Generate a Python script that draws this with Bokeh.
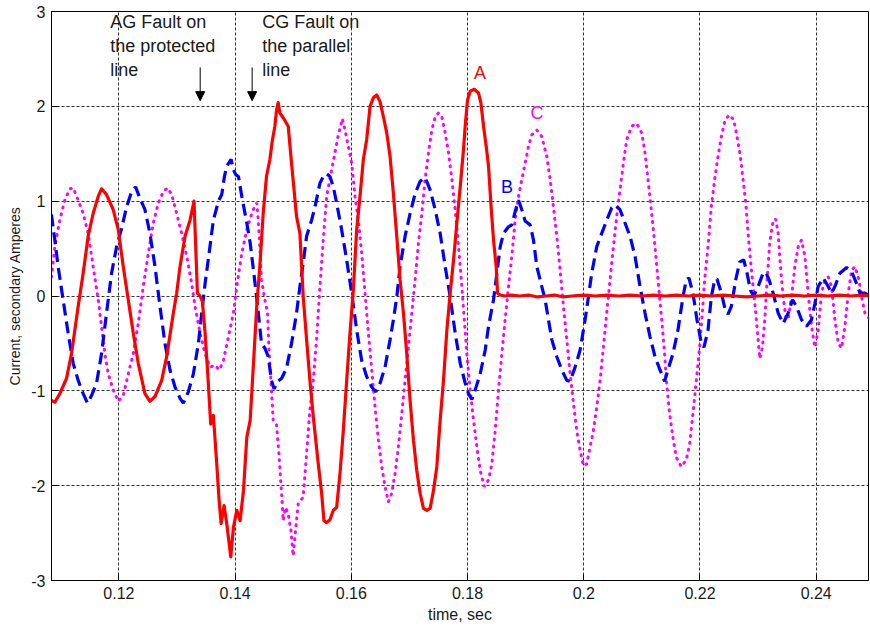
import math
from bokeh.plotting import figure
from bokeh.models import Range1d, FixedTicker, PrintfTickFormatter, Label, Arrow, NormalHead
from bokeh.embed import file_html
from bokeh.resources import INLINE

# ---- data (time in seconds, current in secondary amperes) ----
t_a = [0.10839, 0.10897, 0.10983, 0.11098, 0.11184, 0.11299, 0.11385, 0.11471, 0.11557, 0.11644,
       0.11701, 0.11787, 0.11902, 0.11989, 0.12075, 0.12161, 0.12247, 0.12333, 0.12448, 0.12534,
       0.12621, 0.12736, 0.12822, 0.12937, 0.12994, 0.13052, 0.13138, 0.13224, 0.13293, 0.13322,
       0.13351, 0.13397, 0.13437, 0.13483, 0.13529, 0.13580, 0.13626, 0.13684, 0.13724, 0.13759,
       0.13810, 0.13856, 0.13925, 0.13971, 0.14029, 0.14086, 0.14144, 0.14201, 0.14259, 0.14316,
       0.14375, 0.14425, 0.14483, 0.14540, 0.14598, 0.14638, 0.14684, 0.14713, 0.14741, 0.14770,
       0.14828, 0.14914, 0.14971, 0.15057, 0.15115, 0.15172, 0.15230, 0.15287, 0.15345, 0.15431,
       0.15489, 0.15529, 0.15575, 0.15632, 0.15690, 0.15747, 0.15805, 0.15862, 0.15920, 0.15977,
       0.16034, 0.16092, 0.16149, 0.16207, 0.16264, 0.16322, 0.16379, 0.16437, 0.16494, 0.16552,
       0.16609, 0.16667, 0.16724, 0.16782, 0.16839, 0.16897, 0.16954, 0.17011, 0.17069, 0.17126,
       0.17184, 0.17241, 0.17299, 0.17356, 0.17414, 0.17471, 0.17529, 0.17586, 0.17644, 0.17701,
       0.17759, 0.17816, 0.17874, 0.17931, 0.17960, 0.18000, 0.18046, 0.18115, 0.18189, 0.18229,
       0.18275, 0.18321, 0.18361, 0.18401, 0.18447, 0.18493, 0.18516, 0.18562,
       0.1865, 0.1875, 0.1890, 0.1905, 0.1920, 0.1935, 0.1950, 0.1965, 0.1980, 0.2000,
       0.2020, 0.2040, 0.2060, 0.2080, 0.2100, 0.2120, 0.2140, 0.2160, 0.2180, 0.2200,
       0.2220, 0.2240, 0.2260, 0.2280, 0.2300, 0.2320, 0.2340, 0.2360, 0.2380, 0.2400,
       0.2420, 0.2440, 0.2460, 0.2480, 0.2492]
i_a = [-1.10, -1.12, -1.03, -0.87, -0.61, -0.11, 0.24, 0.63, 0.87, 1.05,
       1.13, 1.07, 0.91, 0.70, 0.31, -0.04, -0.39, -0.71, -1.03, -1.11,
       -1.06, -0.89, -0.64, -0.18, 0.03, 0.31, 0.63, 0.80, 1.00, 0.52,
       0.03, 0.00, -0.06, -0.39, -0.82, -1.35, -1.26, -1.77, -2.15, -2.40,
       -2.21, -2.40, -2.75, -2.44, -2.26, -2.37, -2.05, -1.49, -1.31, -0.71,
       -0.08, 0.31, 0.87, 1.26, 1.44, 1.63, 1.79, 1.96, 2.04, 1.93,
       1.88, 1.79, 1.40, 0.84, 0.66, -0.01, -0.46, -0.89, -1.27, -1.77,
       -2.08, -2.37, -2.39, -2.36, -2.26, -2.23, -1.87, -1.42, -0.89, -0.39,
       0.06, 0.70, 1.05, 1.44, 1.65, 2.00, 2.09, 2.12, 2.05, 1.89,
       1.72, 1.47, 1.08, 0.63, 0.17, -0.18, -0.61, -1.10, -1.52, -1.84,
       -2.08, -2.24, -2.26, -2.24, -2.05, -1.80, -1.31, -0.89, -0.36, 0.03,
       0.38, 0.77, 1.15, 1.55, 1.80, 2.07, 2.16, 2.18, 2.14, 2.04,
       1.79, 1.58, 1.37, 0.98, 0.59, 0.31, 0.03, 0.01,
       0.00, 0.01, 0.00, 0.01, -0.01, 0.00, 0.01, -0.01, 0.00, 0.01,
       0.00, 0.01, 0.00, 0.01, 0.00, 0.01, 0.00, 0.01, 0.00, 0.01,
       0.00, 0.01, 0.00, -0.01, 0.00, 0.01, 0.00, 0.01, 0.00, 0.01,
       0.00, 0.01, 0.00, 0.01, 0.00]

t_b = [0.10839, 0.10897, 0.10954, 0.11040, 0.11126, 0.11213, 0.11299, 0.11385, 0.11460, 0.11529,
       0.11615, 0.11701, 0.11787, 0.11874, 0.11960, 0.12046, 0.12132, 0.12218, 0.12287, 0.12362,
       0.12448, 0.12534, 0.12621, 0.12707, 0.12793, 0.12879, 0.12966, 0.13052, 0.13109, 0.13195,
       0.13282, 0.13368, 0.13425, 0.13483, 0.13552, 0.13626, 0.13713, 0.13770, 0.13816, 0.13856,
       0.13931, 0.13971, 0.14011, 0.14057, 0.14115, 0.14201, 0.14259, 0.14316, 0.14368, 0.14454,
       0.14512, 0.14570, 0.14626, 0.14672, 0.14730, 0.14799, 0.14885, 0.14971, 0.15057, 0.15115,
       0.15172, 0.15230, 0.15316, 0.15374, 0.15460, 0.15517, 0.15575, 0.15632, 0.15690, 0.15747,
       0.15833, 0.15920, 0.16006, 0.16092, 0.16178, 0.16264, 0.16351, 0.16420, 0.16494, 0.16580,
       0.16667, 0.16724, 0.16782, 0.16839, 0.16925, 0.17011, 0.17098, 0.17184, 0.17270, 0.17356,
       0.17443, 0.17529, 0.17615, 0.17701, 0.17787, 0.17874, 0.17960, 0.18017, 0.18074, 0.18132,
       0.18218, 0.18304, 0.18361, 0.18447, 0.18504, 0.18562, 0.18619, 0.18705, 0.18762, 0.18819,
       0.18877, 0.18934, 0.18991, 0.19077, 0.19135, 0.19192, 0.19278, 0.19335, 0.19392, 0.19450,
       0.19536, 0.19622, 0.19708, 0.19765, 0.19851, 0.19937, 0.20023, 0.20080, 0.20137, 0.20223,
       0.20309, 0.20395, 0.20481, 0.20538, 0.20624, 0.20710, 0.20796, 0.20882, 0.20968, 0.21054,
       0.21140, 0.21226, 0.21312, 0.21391, 0.21448, 0.21534, 0.21621, 0.21707, 0.21764, 0.21810,
       0.21879, 0.21948, 0.22023, 0.22069, 0.22138, 0.22195, 0.22253, 0.22293, 0.22368, 0.22437,
       0.22483, 0.22540, 0.22615, 0.22684, 0.22753, 0.22810, 0.22868, 0.22925, 0.23000, 0.23086,
       0.23132, 0.23190, 0.23259, 0.23345, 0.23431, 0.23517, 0.23592, 0.23661, 0.23747, 0.23833,
       0.23919, 0.23977, 0.24034, 0.24121, 0.24207, 0.24264, 0.24322, 0.24408, 0.24523, 0.24609,
       0.24695, 0.24753, 0.24839, 0.24925]
i_b = [0.86, 0.59, 0.31, -0.04, -0.39, -0.71, -0.89, -1.03, -1.13, -1.05,
       -0.92, -0.61, -0.18, 0.24, 0.52, 0.71, 0.94, 1.10, 1.15, 1.03,
       0.91, 0.66, 0.31, -0.11, -0.50, -0.78, -0.96, -1.08, -1.13, -1.01,
       -0.82, -0.50, -0.18, 0.13, 0.45, 0.80, 1.00, 1.07, 1.26, 1.37,
       1.44, 1.33, 1.28, 1.26, 1.05, 0.77, 0.56, 0.27, 0.00, -0.50,
       -0.55, -0.64, -0.89, -0.98, -0.90, -0.87, -0.76, -0.50, -0.18, 0.10,
       0.35, 0.63, 0.80, 0.94, 1.19, 1.26, 1.29, 1.26, 1.15, 0.98,
       0.70, 0.38, 0.03, -0.36, -0.68, -0.85, -0.96, -1.01, -0.92, -0.75,
       -0.46, -0.25, -0.01, 0.31, 0.63, 0.87, 1.08, 1.21, 1.25, 1.12,
       0.91, 0.66, 0.31, -0.01, -0.39, -0.71, -0.92, -1.03, -1.09, -0.99,
       -0.82, -0.57, -0.32, -0.04, 0.24, 0.52, 0.66, 0.73, 0.75, 0.89,
       1.01, 0.91, 0.79, 0.75, 0.59, 0.31, 0.10, -0.04, -0.25, -0.46,
       -0.64, -0.78, -0.89, -0.90, -0.75, -0.57, -0.25, -0.01, 0.24, 0.52,
       0.66, 0.80, 0.93, 0.96, 0.91, 0.77, 0.63, 0.42, 0.10, -0.18,
       -0.43, -0.64, -0.78, -0.90, -0.78, -0.61, -0.36, -0.01, 0.17, 0.19,
       0.03, -0.25, -0.50, -0.54, -0.36, -0.01, 0.17, 0.18, 0.03, -0.15,
       -0.19, -0.11, 0.17, 0.36, 0.38, 0.24, 0.06, 0.00, 0.10, 0.24,
       0.25, 0.17, 0.03, -0.18, -0.29, -0.18, -0.04, -0.11, -0.25, -0.32,
       -0.25, -0.08, 0.10, 0.19, 0.10, 0.03, 0.10, 0.24, 0.30, 0.26,
       0.13, 0.03, 0.03, 0.00]

t_c = [0.10839, 0.10897, 0.10983, 0.11069, 0.11155, 0.11213, 0.11299, 0.11385, 0.11471, 0.11557,
       0.11644, 0.11701, 0.11759, 0.11816, 0.11902, 0.11989, 0.12075, 0.12161, 0.12247, 0.12333,
       0.12420, 0.12506, 0.12592, 0.12678, 0.12764, 0.12839, 0.12908, 0.12994, 0.13080, 0.13167,
       0.13253, 0.13310, 0.13397, 0.13483, 0.13569, 0.13655, 0.13730, 0.13799, 0.13885, 0.13971,
       0.14029, 0.14115, 0.14201, 0.14287, 0.14345, 0.14374, 0.14397, 0.14425, 0.14454, 0.14512,
       0.14558, 0.14581, 0.14615, 0.14655, 0.14713, 0.14753, 0.14799, 0.14828, 0.14868, 0.14914,
       0.14960, 0.15000, 0.15040, 0.15086, 0.15172, 0.15230, 0.15287, 0.15345, 0.15402, 0.15460,
       0.15517, 0.15575, 0.15661, 0.15718, 0.15776, 0.15822, 0.15845, 0.15891, 0.15948, 0.16006,
       0.16063, 0.16121, 0.16178, 0.16236, 0.16293, 0.16351, 0.16408, 0.16466, 0.16523, 0.16580,
       0.16638, 0.16695, 0.16753, 0.16810, 0.16868, 0.16925, 0.16983, 0.17040, 0.17098, 0.17155,
       0.17213, 0.17270, 0.17328, 0.17385, 0.17443, 0.17500, 0.17557, 0.17615, 0.17672, 0.17730,
       0.17787, 0.17845, 0.17902, 0.17931, 0.17989, 0.18046, 0.18103, 0.18160, 0.18218, 0.18287,
       0.18361, 0.18418, 0.18476, 0.18533, 0.18590, 0.18647, 0.18705, 0.18762, 0.18819, 0.18877,
       0.18934, 0.18991, 0.19049, 0.19106, 0.19192, 0.19278, 0.19364, 0.19421, 0.19478, 0.19536,
       0.19593, 0.19650, 0.19708, 0.19765, 0.19822, 0.19879, 0.19937, 0.19994, 0.20051, 0.20109,
       0.20166, 0.20223, 0.20281, 0.20338, 0.20395, 0.20452, 0.20510, 0.20567, 0.20624, 0.20682,
       0.20739, 0.20825, 0.20911, 0.20997, 0.21054, 0.21112, 0.21169, 0.21226, 0.21283, 0.21341,
       0.21390, 0.21420, 0.21477, 0.21534, 0.21592, 0.21678, 0.21764, 0.21822, 0.21879, 0.21937,
       0.21994, 0.22040, 0.22080, 0.22138, 0.22195, 0.22253, 0.22310, 0.22368, 0.22425, 0.22500,
       0.22580, 0.22638, 0.22695, 0.22741, 0.22787, 0.22828, 0.22868, 0.22914, 0.22960, 0.23000,
       0.23029, 0.23075, 0.23115, 0.23155, 0.23201, 0.23259, 0.23305, 0.23345, 0.23385, 0.23431,
       0.23477, 0.23517, 0.23575, 0.23632, 0.23690, 0.23747, 0.23805, 0.23862, 0.23919, 0.23977,
       0.24034, 0.24092, 0.24149, 0.24207, 0.24264, 0.24322, 0.24379, 0.24437, 0.24494, 0.24552,
       0.24609, 0.24667, 0.24736, 0.24781, 0.24839, 0.24925]
i_c = [0.20, 0.52, 0.80, 1.01, 1.13, 1.14, 1.01, 0.87, 0.66, 0.31,
       -0.04, -0.32, -0.61, -0.82, -0.99, -1.11, -1.05, -0.82, -0.61, -0.29,
       0.10, 0.45, 0.77, 0.98, 1.10, 1.14, 1.07, 0.87, 0.66, 0.42,
       0.13, -0.11, -0.39, -0.61, -0.75, -0.73, -0.78, -0.68, -0.43, -0.18,
       0.10, 0.45, 0.70, 0.87, 0.96, 0.98, 0.80, 0.52, 0.17, -0.04,
       -0.18, -0.54, -0.89, -1.31, -1.36, -1.66, -2.08, -2.37, -2.23, -2.30,
       -2.47, -2.74, -2.47, -2.19, -2.12, -1.66, -1.20, -0.89, -0.46, 0.10,
       0.59, 1.05, 1.33, 1.51, 1.70, 1.81, 1.87, 1.75, 1.58, 1.40,
       1.05, 0.80, 0.45, 0.03, -0.39, -0.78, -1.17, -1.52, -1.80, -2.01,
       -2.17, -2.08, -1.87, -1.59, -1.24, -0.89, -0.54, -0.18, 0.17, 0.56,
       0.87, 1.23, 1.51, 1.75, 1.89, 1.93, 1.89, 1.72, 1.51, 1.23,
       0.91, 0.52, 0.10, -0.15, -0.62, -1.00, -1.31, -1.59, -1.84, -2.01,
       -1.94, -1.77, -1.42, -0.99, -0.61, -0.25, 0.10, 0.42, 0.80, 1.05,
       1.23, 1.40, 1.58, 1.70, 1.75, 1.68, 1.47, 1.23, 0.94, 0.63,
       0.27, -0.11, -0.46, -0.82, -1.13, -1.42, -1.63, -1.79, -1.77, -1.59,
       -1.42, -1.17, -0.89, -0.54, -0.18, 0.17, 0.52, 0.84, 1.12, 1.40,
       1.65, 1.79, 1.82, 1.72, 1.51, 1.19, 0.87, 0.52, 0.13, -0.25,
       -0.60, -0.89, -1.24, -1.49, -1.70, -1.80, -1.73, -1.56, -1.24, -0.89,
       -0.54, -0.18, 0.17, 0.52, 0.94, 1.23, 1.47, 1.68, 1.84, 1.91,
       1.86, 1.68, 1.47, 1.23, 0.98, 0.66, 0.38, 0.10, -0.18, -0.46,
       -0.66, -0.54, -0.25, 0.17, 0.56, 0.80, 0.81, 0.66, 0.31, -0.01,
       -0.22, -0.25, -0.01, 0.31, 0.52, 0.59, 0.42, 0.03, -0.32, -0.54,
       -0.36, 0.03, 0.17, 0.20, 0.10, -0.25, -0.50, -0.55, -0.32, 0.03,
       0.27, 0.31, 0.17, -0.01, -0.18, -0.25]

x_ticks = [0.12, 0.14, 0.16, 0.18, 0.20, 0.22, 0.24]
y_ticks = [-3, -2, -1, 0, 1, 2, 3]

FONT = "Liberation Sans"
TXT = "#1a1a1a"

p = figure(width=870, height=629, x_range=Range1d(0.1084, 0.2490), y_range=Range1d(-3, 3),
           output_backend="svg", toolbar_location=None,
           min_border_left=51, min_border_right=2, min_border_top=11, min_border_bottom=49,
           x_axis_label="time, sec", y_axis_label="Current, secondary Amperes")
p.background_fill_color = "white"
p.border_fill_color = "white"
p.outline_line_color = "black"
p.outline_line_width = 1

p.xaxis.ticker = FixedTicker(ticks=x_ticks)
p.yaxis.ticker = FixedTicker(ticks=y_ticks)
for ax in (p.xaxis, p.yaxis):
    ax.formatter = PrintfTickFormatter(format="%g")
    ax.major_tick_in = 6
    ax.major_tick_out = 0
    ax.minor_tick_line_color = None
    ax.axis_line_color = "black"
    ax.major_tick_line_color = "black"
    ax.major_label_text_font = FONT
    ax.major_label_text_font_size = "16px"
    ax.major_label_text_color = TXT
    ax.major_label_standoff = 6
    ax.axis_label_text_font = FONT
    ax.axis_label_text_font_style = "normal"
    ax.axis_label_text_color = TXT
p.xaxis.axis_label_text_font_size = "16px"
p.xaxis.axis_label_standoff = 4
p.yaxis.axis_label_text_font_size = "14px"
p.yaxis.axis_label_standoff = 5

for g in (p.xgrid, p.ygrid):
    g.grid_line_color = "#333333"
    g.grid_line_dash = "3 2"
    g.grid_line_width = 1

p.line(t_c, i_c, color="#ff00ff", line_width=3, line_dash="1 6", line_cap="round")
p.line(t_b, i_b, color="#0000ff", line_width=3.2, line_dash="12 6")
p.line(t_a, i_a, color="#ff0000", line_width=3.2, line_join="round")

# annotations
p.add_layout(Label(x=0.1185, y=2.99, text="AG Fault on\nthe protected\nline", text_font=FONT,
                   text_font_size="18px", text_color=TXT, text_baseline="top", text_line_height=1.2))
p.add_layout(Label(x=0.14465, y=2.99, text="CG Fault on\nthe parallel\nline", text_font=FONT,
                   text_font_size="18px", text_color=TXT, text_baseline="top", text_line_height=1.2))
for xa in (0.13399, 0.14293):
    p.add_layout(Arrow(x_start=xa, y_start=2.41, x_end=xa, y_end=2.06, line_color="black", line_width=1,
                       end=NormalHead(size=9, fill_color="black", line_color="black")))

for txt, xx, yy, col in (("A", 0.18216, 2.35, "#ff0000"), ("B", 0.18680, 1.15, "#0000ff"),
                         ("C", 0.19197, 1.93, "#ff00ff")):
    p.add_layout(Label(x=xx, y=yy, text=txt, text_font=FONT, text_font_size="18px", text_color=col,
                       text_align="center", text_baseline="middle"))

open("out.html", "w").write(file_html(p, INLINE))
